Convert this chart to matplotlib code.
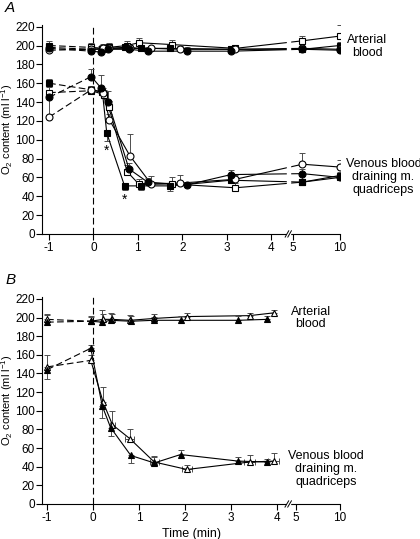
import numpy as np
import matplotlib
matplotlib.use('Agg')
import matplotlib.pyplot as plt
from matplotlib.patches import Rectangle
from matplotlib.transforms import blended_transform_factory

plt.rcParams['font.family'] = ['Liberation Sans', 'DejaVu Sans']
plt.rcParams['font.size'] = 9
plt.rcParams['mathtext.fontset'] = 'custom'
plt.rcParams['mathtext.rm'] = 'Liberation Sans'

# ---- 데이터 (panel A) ----
t_fc = [-1, -0.05, 0.17, 0.33, 0.8, 1.22, 2.1, 3.1, 6, 10]
art_fc = [197, 194, 193, 196, 196, 194, 194, 194, 196, 195]
art_fc_err = [4, 4, 6, 5, 4, 4, 4, 4, 4, 4]
ven_fc = [145, 167, 155, 140, 69, 55, 52, 63, 64, 60]
ven_fc_err = [5, 8, 14, 12, 6, 4, 3, 5, 5, 3]

t_oc = [-1, -0.05, 0.22, 0.36, 0.82, 1.3, 1.96, 3.2, 6, 10]
art_oc = [195, 196, 197, 197, 197, 197, 196, 196, 197, 196]
art_oc_err = [3, 3, 5, 5, 4, 3, 3, 3, 3, 3]
ven_oc = [124, 153, 150, 121, 83, 53, 54, 58, 74, 71]
ven_oc_err = [25, 4, 5, 6, 23, 8, 9, 5, 12, 7]

t_fs = [-1, -0.05, 0.2, 0.3, 0.7, 1.07, 1.73, 3.1, 6, 10]
art_fs = [198, 196, 196, 197, 198, 197, 197, 196, 196, 200]
art_fs_err = [4, 4, 5, 4, 4, 4, 4, 4, 4, 4]
ven_fs = [160, 153, 151, 107, 51, 51, 51, 57, 55, 60]
ven_fs_err = [4, 4, 4, -8, -4, -4, -5, 4, 3, 3]

t_os = [-1, -0.05, 0.24, 0.34, 0.76, 1.02, 1.77, 3.2, 6, 10]
art_os = [200, 198, 197, 198, 200, 203, 201, 197, 205, 210]
art_os_err = [5, 5, 5, 5, 5, 5, 5, 4, 5, 12]
ven_os = [150, 152, 148, 135, 66, 53, 53, 49, 55, 62]
ven_os_err = [6, 4, 5, 6, 7, 5, 7, 5, 6, 4]

star_t = [0.3, 0.7]
star_y = [88, 36]

# ---- 데이터 (panel B) ----
t_ft = [-1, -0.05, 0.2, 0.38, 0.82, 1.33, 1.9, 3.15, 3.78]
art_ft = [195, 196, 195, 197, 196, 197, 197, 197, 198]
art_ft_err = [8, 5, 13, 8, 6, 4, 5, 5, 4]
ven_ft = [144, 167, 105, 82, 52, 44, 53, 46, 45]
ven_ft_err = [-10, 3, -13, -9, -8, 6, 5, 4, 3]

t_ot = [-1, -0.05, 0.22, 0.42, 0.8, 1.33, 2.04, 3.4, 3.93]
art_ot = [198, 196, 198, 198, 197, 199, 201, 202, 205]
art_ot_err = [6, 6, 6, 6, 6, 5, 4, 3, 3]
ven_ot = [147, 154, 109, 85, 70, 45, 37, 45, 46]
ven_ot_err = [13, 6, 16, 15, 10, 6, 5, 7, 9]
ven_ot_xerr = [0, 0, 0, 0.05, 0.1, 0.1, 0.1, 0.12, 0.12]


def make_xt(gap_pos, scale):
    # 4 이후 구간은 압축 (축 끊김)
    def xt(t):
        t = np.asarray(t, dtype=float)
        return np.where(t <= 4, t, gap_pos + (t - 5) * scale)
    return xt


def draw_series(ax, xt, t, y, err, marker, filled, xerr=None):
    x = xt(t)
    y = np.asarray(y, dtype=float)
    e = np.asarray(err, dtype=float)
    lo = np.where(e < 0, -e, 0)
    hi = np.where(e > 0, e, 0)
    ax.errorbar(x, y, yerr=[lo, hi], xerr=xerr, fmt='none', ecolor='0.3',
                elinewidth=0.7, capsize=2.5, capthick=0.7, zorder=2)
    ax.plot(x[:2], y[:2], color='black', lw=0.8, ls=(0, (6, 3)), zorder=2)
    ax.plot(x[1:], y[1:], color='black', lw=0.8, zorder=2)
    ax.plot(x, y, ls='none', marker=marker, ms=5,
            mfc='black' if filled else 'white', mec='black', mew=0.8, zorder=4)


def setup_axes(ax, xt, brk, xlim_left):
    ticks = [-1, 0, 1, 2, 3, 4, 5, 10]
    ax.set_xticks(xt(ticks))
    ax.set_xticklabels([str(v) for v in ticks])
    ax.set_xlim(xlim_left, float(xt(10)) + 0.01)
    ax.set_ylim(0, 222)
    ax.set_yticks(range(0, 221, 20))
    for s in ['top', 'right']:
        ax.spines[s].set_visible(False)
    ax.tick_params(direction='out', length=4, width=0.8, pad=2, labelsize=8.5)
    ax.tick_params(axis='y', pad=1)
    ax.axvline(0, color='black', lw=0.8, ls=(0, (6, 3)), zorder=1)
    trans = blended_transform_factory(ax.transData, ax.transAxes)
    ax.add_patch(Rectangle((brk - 0.03, -0.01), 0.06, 1.02, transform=trans,
                           color='white', zorder=3, clip_on=False))
    for dx in [-0.03, 0.03]:
        ax.plot([brk + dx - 0.04, brk + dx + 0.04], [-0.015, 0.015], transform=trans,
                color='black', lw=0.7, clip_on=False, zorder=6)
    ax.set_ylabel('O$_2$ content (ml l$^{-1}$)', fontsize=8)
    ax.yaxis.set_label_coords(-0.092, 0.5)


fig = plt.figure(figsize=(4.2, 5.39), dpi=100)

# ---- Panel A ----
axA = fig.add_axes([0.1, 0.566, 0.71, 0.388])
xtA = make_xt(4.5, 0.21)
draw_series(axA, xtA, t_os, art_os, art_os_err, 's', False)
draw_series(axA, xtA, t_fs, art_fs, art_fs_err, 's', True)
draw_series(axA, xtA, t_oc, art_oc, art_oc_err, 'o', False)
draw_series(axA, xtA, t_fc, art_fc, art_fc_err, 'o', True)
draw_series(axA, xtA, t_os, ven_os, ven_os_err, 's', False)
draw_series(axA, xtA, t_fs, ven_fs, ven_fs_err, 's', True)
draw_series(axA, xtA, t_oc, ven_oc, ven_oc_err, 'o', False)
draw_series(axA, xtA, t_fc, ven_fc, ven_fc_err, 'o', True)
for st, sy in zip(star_t, star_y):
    axA.text(st, sy, '*', ha='center', va='center', fontsize=10)
setup_axes(axA, xtA, 4.39, -1.16)
fig.text(0.874, 0.913, 'Arterial\nblood', ha='center', va='center', linespacing=1.1)
fig.text(0.913, 0.672, 'Venous blood\ndraining m.\nquadriceps', ha='center', va='center',
         linespacing=1.1)
fig.text(0.012, 0.985, 'A', fontsize=11, style='italic', va='center')

# ---- Panel B ----
axB = fig.add_axes([0.1, 0.065, 0.71, 0.384])
xtB = make_xt(4.41, 0.19)
draw_series(axB, xtB, t_ot, art_ot, art_ot_err, '^', False)
draw_series(axB, xtB, t_ft, art_ft, art_ft_err, '^', True)
draw_series(axB, xtB, t_ot, ven_ot, ven_ot_err, '^', False, xerr=ven_ot_xerr)
draw_series(axB, xtB, t_ft, ven_ft, ven_ft_err, '^', True)
setup_axes(axB, xtB, 4.24, -1.11)
axB.set_xlabel('Time (min)', labelpad=3)
fig.text(0.74, 0.41, 'Arterial\nblood', ha='center', va='center', linespacing=1.1)
fig.text(0.776, 0.13, 'Venous blood\ndraining m.\nquadriceps', ha='center', va='center',
         linespacing=1.1)
fig.text(0.012, 0.48, 'B', fontsize=11, style='italic', va='center')

fig.savefig('out.png', dpi=100)
